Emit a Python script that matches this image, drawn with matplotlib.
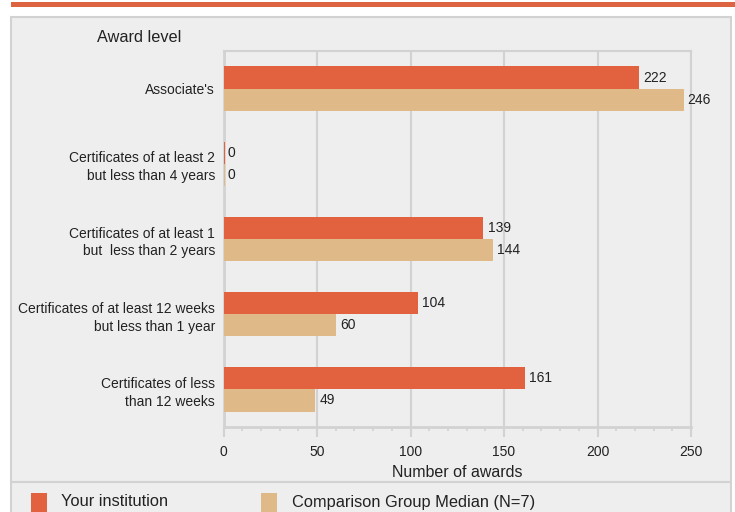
import numpy as np
import matplotlib.pyplot as plt
from matplotlib.patches import Rectangle
from matplotlib.lines import Line2D

plt.rcParams['font.family'] = ['Liberation Sans', 'DejaVu Sans']

categories = [
    "Associate's",
    'Certificates of at least 2\nbut less than 4 years',
    'Certificates of at least 1\nbut  less than 2 years',
    'Certificates of at least 12 weeks\nbut less than 1 year',
    'Certificates of less\nthan 12 weeks',
]
your_inst = [222, 0, 139, 104, 161]
comparison = [246, 0, 144, 60, 49]
series_names = ['Your institution', 'Comparison Group Median (N=7)']
x_ticks = [0, 50, 100, 150, 200, 250]

ORANGE = '#E2623F'
TAN = '#DFBA88'
PANEL = '#EEEEEE'
LINE = '#D2D2D2'

W, H = 735, 512
fig = plt.figure(figsize=(W / 100, H / 100), dpi=100, facecolor='white')


def fx(px):
    return px / W


def fy(py):
    return 1 - py / H


# page stripe + panel (behind the axes)
fig.add_artist(Rectangle((fx(11), fy(7)), fx(735) - fx(11), fy(2) - fy(7),
                         transform=fig.transFigure, facecolor='#DC6440', edgecolor='none',
                         zorder=-10))
fig.add_artist(Rectangle((fx(11), fy(520)), fx(731) - fx(11), fy(17) - fy(520),
                         transform=fig.transFigure, facecolor=PANEL, edgecolor=LINE,
                         linewidth=1.5, zorder=-10))
fig.add_artist(Line2D([fx(11), fx(731)], [fy(482), fy(482)], transform=fig.transFigure,
                      color=LINE, linewidth=1.5, zorder=-9))

left, right, top, bottom = 223.5, 691, 51, 427
ax = fig.add_axes([fx(left), fy(bottom), fx(right) - fx(left), fy(top) - fy(bottom)])
ax.set_facecolor(PANEL)

y = np.arange(len(categories))
h = 0.295
b1 = ax.barh(y - h / 2, your_inst, height=h, color=ORANGE, zorder=3)
b2 = ax.barh(y + h / 2, comparison, height=h, color=TAN, zorder=3)
ax.bar_label(b1, padding=3, fontsize=10, color='#222222')
ax.bar_label(b2, padding=3, fontsize=10, color='#222222')
# thin sliver for zero values
for i, (a, c) in enumerate(zip(your_inst, comparison)):
    if a == 0:
        ax.barh(i - h / 2, 0.8, height=h, color=ORANGE, zorder=3)
    if c == 0:
        ax.barh(i + h / 2, 0.8, height=h, color=TAN, zorder=3)

ax.set_xlim(0, 250)
ax.set_ylim(len(categories) - 0.5, -0.5)
ax.set_yticks(y)
ax.set_yticklabels(categories, fontsize=10, linespacing=1.35, color='#222222')
ax.tick_params(axis='y', length=0, pad=6)
ax.set_xticks(x_ticks)
ax.set_xticks(np.arange(0, 251, 10), minor=True)
ax.tick_params(axis='x', which='major', length=7, width=1.5, color=LINE, labelsize=10,
               labelcolor='#222222', pad=6)
ax.tick_params(axis='x', which='minor', length=3, width=1.2, color=LINE)
ax.xaxis.grid(True, color=LINE, linewidth=1.5, zorder=0)
ax.set_axisbelow(True)
for s in ax.spines.values():
    s.set_color(LINE)
    s.set_linewidth(1.5)
ax.spines['left'].set_linewidth(2)
ax.spines['bottom'].set_linewidth(2)

ax.set_xlabel('Number of awards', fontsize=11.5, color='#222222', labelpad=4)

fig.text(fx(97), fy(37), 'Award level', fontsize=11.7, color='#222222', va='center', ha='left')

# legend
fig.add_artist(Rectangle((fx(31), fy(512)), fx(16), fy(493) - fy(512),
                         transform=fig.transFigure, facecolor=ORANGE, edgecolor='none'))
fig.text(fx(61), fy(502), series_names[0], fontsize=11.8, color='#222222', va='center')
fig.add_artist(Rectangle((fx(261), fy(512)), fx(16), fy(493) - fy(512),
                         transform=fig.transFigure, facecolor=TAN, edgecolor='none'))
fig.text(fx(292), fy(502), series_names[1], fontsize=11.8, color='#222222', va='center')

fig.savefig('out.png', dpi=100, facecolor='white')
